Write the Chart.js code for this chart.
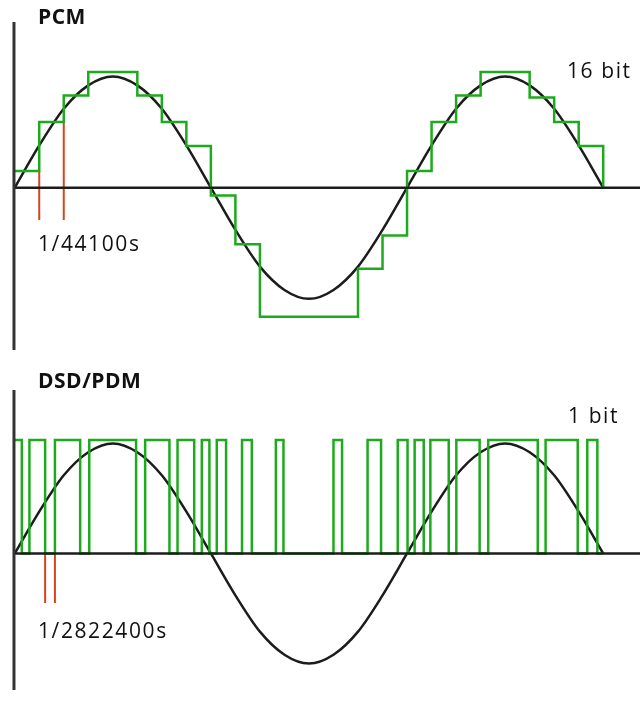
<!DOCTYPE html>
<html>
<head>
<meta charset="utf-8">
<script src="https://cdn.jsdelivr.net/npm/chart.js@4"></script>
<style>
  body { margin: 0; background: #fff; width: 640px; height: 704px; position: relative; overflow: hidden; }
  canvas { position: absolute; left: 0; }
  .lbl { position: absolute; font-family: "Open Sans", sans-serif; color: #111; font-size: 21px; letter-spacing: 1.6px; line-height: 1; }
  .ttl { font-weight: bold; font-size: 21px; letter-spacing: 0.5px; }
</style>
</head>
<body>
<canvas id="pcmChart" width="640" height="328" style="top:22px"></canvas>
<canvas id="dsdChart" width="640" height="300" style="top:390px"></canvas>
<div class="lbl ttl" style="left:38px;top:6px">PCM</div>
<div class="lbl" style="left:567px;top:60px">16 bit</div>
<div class="lbl" style="left:38px;top:233px">1/44100s</div>
<div class="lbl ttl" style="left:38px;top:370px">DSD/PDM</div>
<div class="lbl" style="left:568px;top:405px">1 bit</div>
<div class="lbl" style="left:38px;top:620px">1/2822400s</div>
<script>
// time in PCM sample periods, amplitude relative to sine peak
const sineX = [0,1,2,3,4,5,6,7,8,9,10,11,12,13,14,15,16,17,18,19,20,21,22,23,24];
const sineY = [0,0.38,0.71,0.92,1,0.92,0.71,0.38,0,-0.38,-0.71,-0.92,-1,-0.92,-0.71,-0.38,0,0.38,0.71,0.92,1,0.92,0.71,0.38,0];

// PCM steps: start of each held sample and its level
const pcmStart = [0,1,2,3,5,6,7,8,9,10,14,15,16,17,18,19,21,22,23,24,24];
const pcmLevel = [0.15,0.59,0.83,1.04,0.83,0.59,0.375,-0.07,-0.51,-1.16,-0.73,-0.43,0.15,0.59,0.83,1.04,0.81,0.59,0.375,0.375,0];

// DSD bitstream: edges and level after each edge
const dsdEdge = [0,0.29,0.60,1.24,1.64,2.67,3.04,4.95,5.32,6.31,6.64,7.32,7.63,7.94,8.24,8.62,9.27,9.67,10.65,10.96,13.0,13.35,14.39,14.94,15.62,16.02,16.31,16.68,16.95,17.70,18.01,18.96,19.31,21.33,21.65,22.96,23.35,23.76,24];
const dsdBit  = [1,0,1,0,1,0,1,0,1,0,1,0,1,0,1,0,1,0,1,0,1,0,1,0,1,0,1,0,1,0,1,0,1,0,1,0,1,0,0];

const pcmMarks = [[1,0.15],[2,0.59]];
const dsdMarks = [[1.24,0],[1.64,0]];

const GREEN = '#1eaa1e', DARK = '#1c1c1c', RED = '#d9441a';
const xMin = -0.6, xMax = 25.5;

function pts(xs, ys) { return xs.map((x, i) => ({ x: x, y: ys[i] })); }

function line(data, color, width, extra) {
  return Object.assign({ data: data, borderColor: color, borderWidth: width, pointRadius: 0, fill: false, clip: false }, extra || {});
}

function makeChart(id, yMin, yMax, signal, amp, marks, markBottom) {
  const sets = [
    line([{ x: -0.03, y: yMin }, { x: -0.03, y: yMax }], '#333', 3),
    line([{ x: 0, y: 0 }, { x: xMax, y: 0 }], DARK, 2.5),
    line(signal, GREEN, 2.5, { stepped: 'before' }),
    line(pts(sineX, sineY.map(v => v * amp)), DARK, 2.5, { cubicInterpolationMode: 'monotone' })
  ];
  marks.forEach(m => sets.push(line([{ x: m[0], y: m[1] }, { x: m[0], y: markBottom }], RED, 2)));
  new Chart(document.getElementById(id), {
    type: 'line',
    data: { datasets: sets },
    options: {
      responsive: false, animation: false,
      layout: { padding: 0 },
      plugins: { legend: { display: false }, tooltip: { enabled: false } },
      scales: {
        x: { type: 'linear', min: xMin, max: xMax, display: false },
        y: { min: yMin, max: yMax, display: false }
      }
    }
  });
}

makeChart('pcmChart', -1.46, 1.49, pts(pcmStart, pcmLevel), 1, pcmMarks, -0.29);
makeChart('dsdChart', -1.24, 1.485, pts(dsdEdge, dsdBit.map(b => b * 1.03)), 1, dsdMarks, -0.45);
</script>
</body>
</html>
